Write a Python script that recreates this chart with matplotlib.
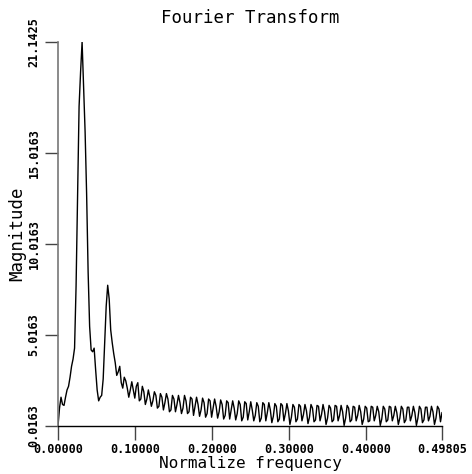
import numpy as np
import matplotlib
matplotlib.use("Agg")
import matplotlib.pyplot as plt

# Magnitude spectrum, one value per FFT bin (512-point transform, bins 0..255)
magnitude = [
    0.02, 1.00, 1.60, 1.20, 1.15, 1.60, 2.00, 2.20, 2.70, 3.30,
    3.70, 4.30, 7.70, 12.80, 17.60, 19.50, 21.1425, 18.70, 16.20, 12.80,
    8.50, 5.50, 4.20, 4.10, 4.30, 3.10, 2.00, 1.40, 1.60, 1.70,
    2.60, 4.60, 6.60, 7.76, 7.00, 5.30, 4.60, 4.00, 3.50, 2.80,
    3.00, 3.30, 2.40, 2.10, 2.70, 2.50, 2.10, 1.60, 2.00, 2.45,
    2.00, 1.55, 2.20, 2.40, 1.40, 1.50, 2.20, 1.90, 1.20, 1.50,
    2.00, 1.60, 1.10, 1.40, 1.90, 1.70, 1.00, 1.10, 1.80, 1.60,
    0.90, 1.30, 1.80, 1.50, 0.80, 0.90, 1.70, 1.50, 0.80, 1.20,
    1.70, 1.30, 0.70, 1.00, 1.70, 1.40, 0.70, 0.80, 1.60, 1.50,
    0.60, 1.10, 1.60, 1.20, 0.55, 0.90, 1.55, 1.30, 0.50, 0.70,
    1.50, 1.40, 0.50, 1.00, 1.50, 1.10, 0.45, 0.80, 1.45, 1.20,
    0.40, 0.60, 1.40, 1.30, 0.40, 0.90, 1.40, 1.00, 0.35, 0.70,
    1.40, 1.20, 0.30, 0.50, 1.35, 1.25, 0.35, 0.80, 1.35, 0.90,
    0.30, 0.60, 1.30, 1.10, 0.25, 0.45, 1.30, 1.20, 0.30, 0.75,
    1.30, 0.90, 0.20, 0.55, 1.25, 1.10, 0.25, 0.40, 1.25, 1.15,
    0.30, 0.70, 1.25, 0.85, 0.10, 0.50, 1.20, 1.05, 0.25, 0.40,
    1.20, 1.10, 0.30, 0.65, 1.20, 0.85, 0.15, 0.50, 1.20, 1.00,
    0.25, 0.35, 1.15, 1.10, 0.30, 0.65, 1.20, 0.80, 0.10, 0.45,
    1.15, 1.00, 0.25, 0.35, 1.15, 1.10, 0.30, 0.60, 1.15, 0.80,
    0.05, 0.45, 1.15, 1.00, 0.25, 0.35, 1.10, 1.05, 0.30, 0.60,
    1.15, 0.80, 0.10, 0.40, 1.10, 1.00, 0.25, 0.30, 1.10, 1.05,
    0.30, 0.60, 1.10, 0.80, 0.05, 0.40, 1.10, 0.95, 0.25, 0.35,
    1.10, 1.05, 0.30, 0.60, 1.10, 0.75, 0.10, 0.45, 1.10, 0.95,
    0.20, 0.35, 1.05, 1.05, 0.30, 0.60, 1.10, 0.75, 0.05, 0.45,
    1.10, 0.95, 0.20, 0.35, 1.05, 1.05, 0.30, 0.55, 1.10, 0.80,
    0.10, 0.45, 1.10, 0.95, 0.25, 0.75,
]
n_fft = 512
freq = np.arange(len(magnitude)) / n_fft

x_ticks = [0.0, 0.1, 0.2, 0.3, 0.4, 0.49805]
x_tick_labels = ["0.00000", "0.10000", "0.20000", "0.30000", "0.40000", "0.49805"]
y_ticks = [0.0163, 5.0163, 10.0163, 15.0163, 21.1425]
y_tick_labels = ["0.0163", "5.0163", "10.0163", "15.0163", "21.1425"]

plt.rcParams["font.family"] = ["DejaVu Sans Mono"]

fig = plt.figure(figsize=(4.72, 4.74), dpi=100)
ax = fig.add_axes([58 / 472, 48 / 474, 384 / 472, 384 / 474])

ax.plot(freq, magnitude, color="black", lw=1.0)

ax.set_xlim(0.0, 0.49805)
ax.set_ylim(0.0163, 21.1425)

for side in ("top", "right"):
    ax.spines[side].set_visible(False)
ax.spines["left"].set_color("#777777")
ax.spines["left"].set_linewidth(1.2)
ax.spines["bottom"].set_color("black")
ax.spines["bottom"].set_linewidth(1.0)

ax.set_xticks(x_ticks)
ax.set_xticklabels(x_tick_labels, fontsize=8.5, fontweight="bold")
ax.set_yticks(y_ticks)
ax.set_yticklabels(y_tick_labels, fontsize=8.5, fontweight="bold",
                   rotation=90, va="center")
ax.tick_params(axis="x", direction="out", length=10, width=1.0,
               color="#444444", pad=2.5)
ax.tick_params(axis="y", direction="out", length=9.5, width=1.0,
               color="#444444", pad=3)

ax.set_title("Fourier Transform", fontsize=12.5, pad=14)
ax.set_xlabel("Normalize frequency", fontsize=11.5, labelpad=0)
ax.set_ylabel("Magnitude", fontsize=12.5, labelpad=1)

fig.savefig("out.png", dpi=100)
